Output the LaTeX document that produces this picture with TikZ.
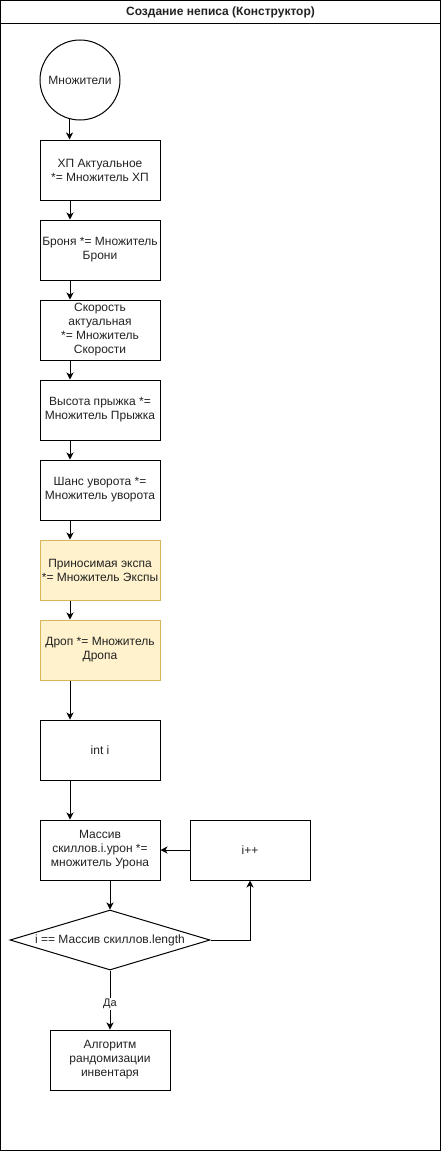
\documentclass[tikz,border=0pt]{standalone}
\usepackage{fontspec}
\setmainfont{Liberation Sans}
\usetikzlibrary{arrows.meta,shapes.geometric}
\definecolor{noteFill}{HTML}{FFF2CC}
\definecolor{noteLine}{HTML}{D6B656}
\definecolor{ink}{HTML}{222222}
\begin{document}
\begin{tikzpicture}[x=1pt,y=-1pt,
  every node/.style={font=\fontsize{12}{14}\selectfont, text=ink},
  proc/.style={draw, line width=1pt, minimum width=120pt, minimum height=60pt, align=center, inner sep=1pt},
  hl/.style={proc, fill=noteFill, draw=noteLine},
  arr/.style={line width=1pt, -{Stealth[length=7pt,width=7pt,inset=2pt]}},
  frame/.style={line width=1pt}]
\useasboundingbox (0,0) rectangle (441,1151);

% swimlane frame with its title band
\draw[frame] (0.5,0.5) rectangle (440.5,1150.5);
\draw[frame] (0.5,23) -- (440.5,23);
\node[font=\bfseries\fontsize{12}{14}\selectfont] (title) at (220.5,12) {Создание неписа (Конструктор)};

% start
\node[draw, circle, line width=1pt, minimum size=80pt, inner sep=0pt] (mul) at (80,80) {Множители};

% multiplier steps
\node[proc] (b1) at (100,170) {ХП Актуальное\\*= Множитель ХП};
\node[proc] (b2) at (100,250) {Броня *= Множитель\\Брони};
\node[proc] (b3) at (100,330) {Скорость\\актуальная\\*= Множитель\\Скорости};
\node[proc] (b4) at (100,410) {Высота прыжка *=\\Множитель Прыжка};
\node[proc] (b5) at (100,490) {Шанс уворота *=\\Множитель уворота};
\node[hl]   (b6) at (100,570) {Приносимая экспа\\*= Множитель Экспы};
\node[hl]   (b7) at (100,650) {Дроп *= Множитель\\Дропа};

% skill loop
\node[proc] (bi)   at (100,750) {int i};
\node[proc] (bm)   at (100,850) {Массив\\скиллов.i.урон *=\\множитель Урона};
\node[proc] (binc) at (250,850) {i++};
\node[draw, diamond, line width=1pt, minimum width=200pt, minimum height=60pt, inner sep=0pt] (dia) at (110,940) {};
\node (diatext) at (dia.center) {i == Массив скиллов.length};
\node[proc] (balg) at (110,1060) {Алгоритм\\рандомизации\\инвентаря};

% connectors
\draw[arr] (mul.255.5) -- (mul.255.5 |- b1.north);
\draw[arr] ([xshift=-30pt]b1.south) -- ([xshift=-30pt]b2.north);
\draw[arr] ([xshift=-30pt]b2.south) -- ([xshift=-30pt]b3.north);
\draw[arr] ([xshift=-30pt]b3.south) -- ([xshift=-30pt]b4.north);
\draw[arr] ([xshift=-30pt]b4.south) -- ([xshift=-30pt]b5.north);
\draw[arr] ([xshift=-30pt]b5.south) -- ([xshift=-30pt]b6.north);
\draw[arr] ([xshift=-30pt]b6.south) -- ([xshift=-30pt]b7.north);
\draw[arr] ([xshift=-30pt]b7.south) -- ([xshift=-30pt]bi.north);
\draw[arr] ([xshift=-30pt]bi.south) -- ([xshift=-30pt]bm.north);
\draw[arr] ([xshift=10pt]bm.south) -- (dia.north);
\draw[arr] (binc.west) -- (bm.east);
\draw[arr] (dia.east) -| (binc.south);
\draw[arr] (dia.south) -- node[pos=0.57, fill=white, inner sep=1pt, font=\fontsize{11}{13}\selectfont] (yes) {Да} (balg.north);
\end{tikzpicture}
\end{document}
